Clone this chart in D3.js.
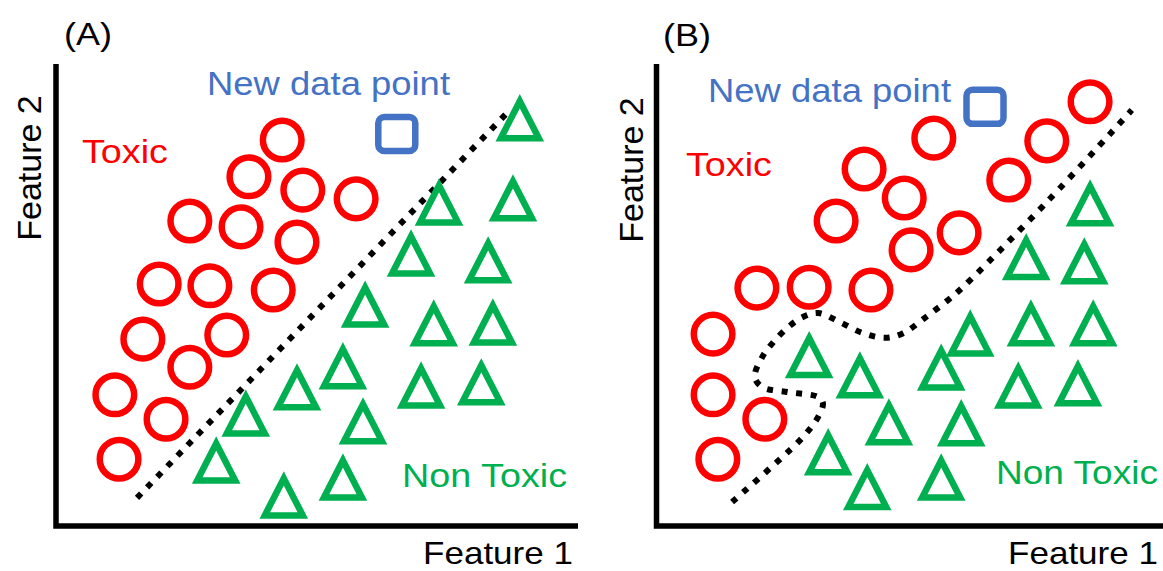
<!DOCTYPE html>
<html>
<head>
<meta charset="utf-8">
<script src="https://cdn.jsdelivr.net/npm/d3@7"></script>
<style>
  html, body { margin: 0; padding: 0; background: #fff; }
  svg { display: block; font-family: "Liberation Sans", Arial, Helvetica, sans-serif; }
</style>
</head>
<body>
<svg id="chart" width="1163" height="571"></svg>
<script>
// ---------------- DATA (feature units, 0-100 on each axis) ----------------
const toxicA = [
  [43.6,83.7],[37.3,75.7],[47.5,72.8],[57.6,70.9],[26.1,66.1],[35.8,64.8],
  [46.4,61.5],[20.3,52.4],[29.9,52.0],[41.9,51.1],[17.2,40.4],[33.1,41.3],
  [26.1,34.3],[11.9,28.3],[21.6,23.0],[12.7,14.3]
];
const nonToxicA = [
  [88.6,88.5],[87.3,71.1],[73.3,70.2],[68.0,59.1],[82.6,57.6],[83.5,44.1],
  [72.3,43.9],[59.3,48.0],[55.1,34.6],[46.4,30.0],[69.9,30.4],[81.3,31.1],
  [36.7,24.3],[58.9,22.6],[31.1,14.1],[55.1,10.4],[43.9,6.5]
];
const newPointA = [[65.3,85.0]];
const boundaryA = [[16.1,5.9],[86.2,89.6]];

const toxicB = [
  [82.4,92.0],[52.8,84.1],[74.2,83.5],[39.6,77.4],[67.0,75.0],[47.2,71.1],
  [34.3,66.1],[57.6,63.5],[48.5,59.8],[19.3,51.5],[29.2,51.7],[40.9,51.1],
  [11.0,41.5],[11.0,28.3],[20.8,23.0],[11.9,14.3]
];
const nonToxicB = [
  [82.4,70.0],[70.3,58.3],[81.3,57.4],[83.0,43.9],[71.2,43.9],[59.7,41.7],
  [29.2,37.0],[38.8,32.6],[54.2,34.3],[68.8,30.4],[80.1,30.9],[44.3,22.4],
  [58.0,22.2],[32.8,15.9],[40.2,8.3],[54.2,10.4]
];
const newPointB = [[62.5,90.9]];
const boundaryB = [
  [14.6,5.0],[23.1,13.7],[28.0,19.1],[30.9,23.5],[31.8,26.5],[30.9,27.8],
  [25.2,28.9],[20.3,30.0],[18.9,32.2],[20.3,36.5],[22.3,39.6],[25.2,43.0],
  [28.0,45.2],[30.9,46.1],[35.0,44.1],[39.4,41.7],[43.6,40.7],[47.0,41.7],
  [51.3,45.2],[55.5,48.9],[58.3,51.7],[74.2,70.2],[90.3,90.2]
];

const panelLabels = ["(A)", "(B)"];
const axisLabelX = "Feature 1";
const axisLabelY = "Feature 2";
const classLabels = ["Toxic", "Non Toxic", "New data point"];

// ---------------- STYLE ----------------
const RED = "#FF0000", GREEN = "#00B050", BLUE = "#4472C4", BLACK = "#000";

const svg = d3.select("#chart");

function drawPanel(cfg) {
  const x = d3.scaleLinear().domain([0, 100]).range(cfg.xRange);
  const y = d3.scaleLinear().domain([0, 100]).range([525, 65]);
  const g = svg.append("g");

  // axes (L-shaped frame)
  g.append("path")
    .attr("d", `M${cfg.axisX},64 L${cfg.axisX},526 L${cfg.axisEnd},526`)
    .attr("fill", "none").attr("stroke", BLACK)
    .attr("stroke-width", 5.5).attr("stroke-linejoin", "miter");

  // decision boundary
  const line = d3.line().x(d => x(d[0])).y(d => y(d[1]))
    .curve(cfg.boundary.length > 2 ? d3.curveCatmullRom.alpha(0.5) : d3.curveLinear);
  g.append("path")
    .attr("d", line(cfg.boundary))
    .attr("fill", "none").attr("stroke", BLACK)
    .attr("stroke-width", 6).attr("stroke-dasharray", "6 8.6");

  // toxic circles
  g.selectAll(null).data(cfg.toxic).enter().append("circle")
    .attr("cx", d => x(d[0])).attr("cy", d => y(d[1])).attr("r", 19.3)
    .attr("fill", "none").attr("stroke", RED).attr("stroke-width", 6.5);

  // non-toxic triangles
  const tri = d3.line()([[0,-16.7],[19,20.3],[-19,20.3]]) + "Z";
  g.selectAll(null).data(cfg.nonToxic).enter().append("path")
    .attr("d", tri)
    .attr("transform", d => `translate(${x(d[0])},${y(d[1])})`)
    .attr("fill", "none").attr("stroke", GREEN).attr("stroke-width", 6.5)
    .attr("stroke-linejoin", "miter").attr("stroke-miterlimit", 10);

  // new data point
  g.selectAll(null).data(cfg.newPoint).enter().append("rect")
    .attr("x", d => x(d[0]) - 18.5).attr("y", d => y(d[1]) - 17)
    .attr("width", 37).attr("height", 34).attr("rx", 6)
    .attr("fill", "none").attr("stroke", BLUE).attr("stroke-width", 6.5);

  // texts
  const t = (txt, px, py, color, size, width, anchor, rot) => {
    const el = g.append("text").text(txt)
      .attr("font-size", size).attr("fill", color)
      .attr("text-anchor", anchor || "start");
    if (width) el.attr("textLength", width).attr("lengthAdjust", "spacingAndGlyphs");
    if (rot) el.attr("transform", `translate(${px},${py}) rotate(-90)`);
    else el.attr("x", px).attr("y", py);
    return el;
  };
  t(cfg.label, cfg.labelPos[0], cfg.labelPos[1], BLACK, 31, 48);
  t(axisLabelY, cfg.yLabPos[0], cfg.yLabPos[1], BLACK, 34, null, "middle", true);
  t(axisLabelX, cfg.xLabPos[0] - 150, cfg.xLabPos[1], BLACK, 32, 150);
  t(classLabels[2], cfg.newPos[0], cfg.newPos[1], BLUE, 33, 243);
  t(classLabels[0], cfg.toxPos[0], cfg.toxPos[1], RED, 33, 86);
  t(classLabels[1], cfg.nonPos[0], cfg.nonPos[1], GREEN, 33, cfg.nonW);
}

drawPanel({
  xRange: [52, 580], axisX: 56, axisEnd: 578,
  toxic: toxicA, nonToxic: nonToxicA, newPoint: newPointA, boundary: boundaryA,
  label: panelLabels[0], labelPos: [64, 45],
  yLabPos: [41, 168], xLabPos: [573, 564],
  newPos: [207, 95], toxPos: [82, 163], nonPos: [402, 487], nonW: 165
});
drawPanel({
  xRange: [655, 1183], axisX: 656.5, axisEnd: 1163,
  toxic: toxicB, nonToxic: nonToxicB, newPoint: newPointB, boundary: boundaryB,
  label: panelLabels[1], labelPos: [663, 46],
  yLabPos: [643, 170], xLabPos: [1158, 564],
  newPos: [708, 102], toxPos: [686, 176], nonPos: [996, 484], nonW: 162
});
</script>
</body>
</html>
